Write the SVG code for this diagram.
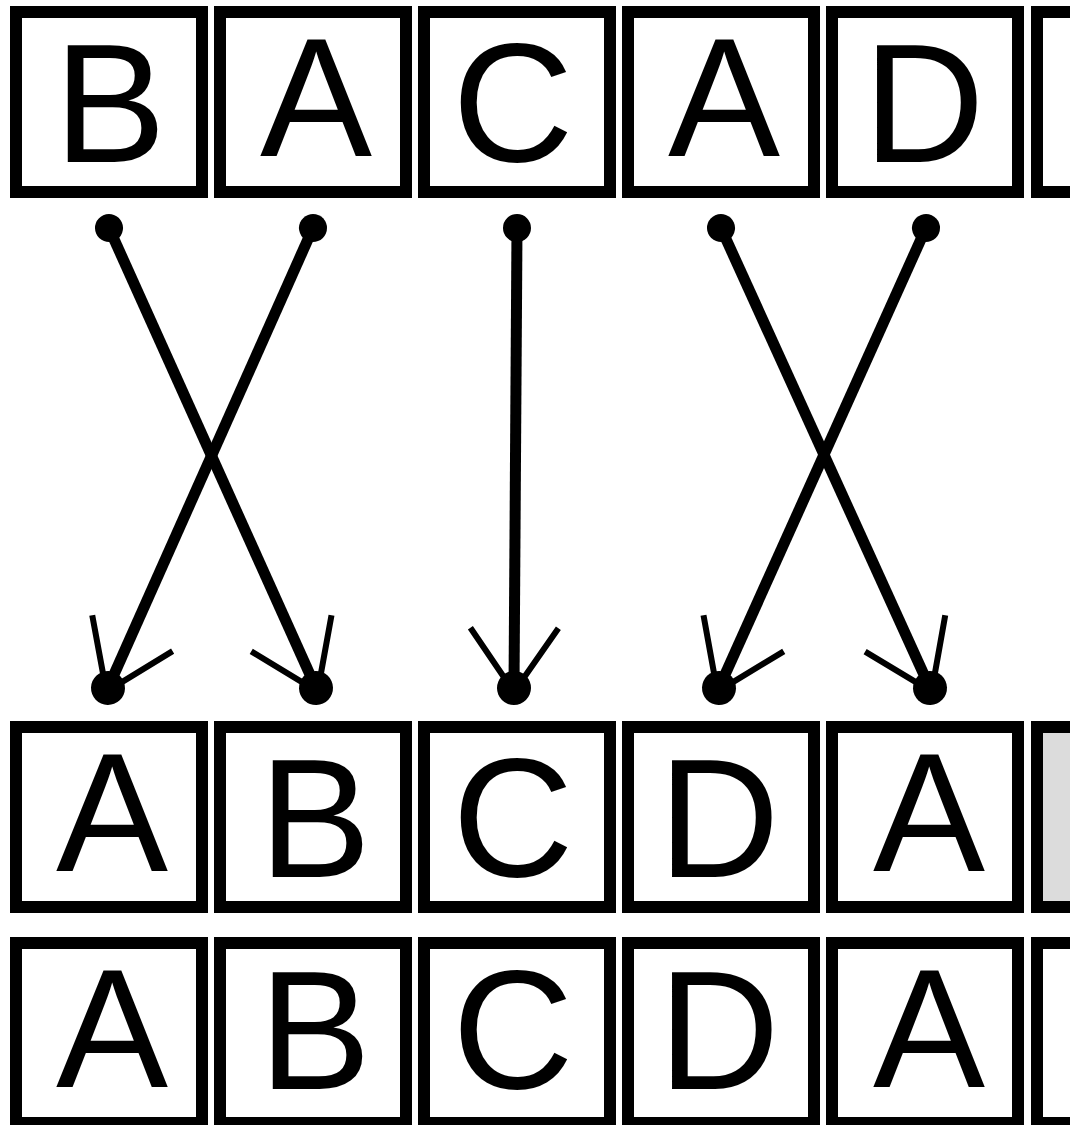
<svg xmlns="http://www.w3.org/2000/svg" width="1070" height="1125" viewBox="0 0 1070 1125">
<style>
.box{fill:#fff;stroke:#000;stroke-width:12}
.grey{fill:#dcdcdc}
.lt{font-family:"Liberation Sans",Arial,sans-serif;font-size:168px;fill:#000;text-anchor:middle}
.conn{stroke:#000;stroke-width:11;fill:none;marker-start:url(#dot);marker-end:url(#head)}
</style>
<defs>
<marker id="dot" markerUnits="userSpaceOnUse" viewBox="-20 -20 40 40" markerWidth="40" markerHeight="40" refX="0" refY="0" orient="auto" overflow="visible"><circle r="14" fill="#000"/></marker>
<marker id="head" markerUnits="userSpaceOnUse" viewBox="-90 -60 110 120" markerWidth="110" markerHeight="120" refX="0" refY="0" orient="auto" overflow="visible"><path d="M-60,-44 L4,0 L-60,44" fill="none" stroke="#000" stroke-width="6"/><circle r="17" fill="#000"/></marker>
</defs>
<rect width="1070" height="1125" fill="#fff"/>
<g id="top-row">
<g id="t1"><rect class="box" x="16" y="12" width="186" height="180"/><text class="lt" x="110" y="162">B</text></g>
<g id="t2"><rect class="box" x="220" y="12" width="186" height="180"/><text class="lt" x="316" y="156">A</text></g>
<g id="t3"><rect class="box" x="424" y="12" width="186" height="180"/><text class="lt" x="513" y="161">C</text></g>
<g id="t4"><rect class="box" x="628" y="12" width="186" height="180"/><text class="lt" x="724" y="156">A</text></g>
<g id="t5"><rect class="box" x="832" y="12" width="186" height="180"/><text class="lt" x="924" y="162">D</text></g>
<g id="t6"><rect class="box" x="1037" y="12" width="186" height="180"/></g>
</g>
<g id="mid-row">
<g id="m1"><rect class="box" x="16" y="727" width="186" height="180"/><text class="lt" x="112" y="871">A</text></g>
<g id="m2"><rect class="box" x="220" y="727" width="186" height="180"/><text class="lt" x="315" y="877">B</text></g>
<g id="m3"><rect class="box" x="424" y="727" width="186" height="180"/><text class="lt" x="513" y="876">C</text></g>
<g id="m4"><rect class="box" x="628" y="727" width="186" height="180"/><text class="lt" x="719" y="877">D</text></g>
<g id="m5"><rect class="box" x="832" y="727" width="186" height="180"/><text class="lt" x="929" y="871">A</text></g>
<g id="m6"><rect class="box grey" x="1037" y="727" width="186" height="180"/></g>
</g>
<g id="bottom-row">
<g id="b1"><rect class="box" x="16" y="943" width="186" height="180"/><text class="lt" x="112" y="1087">A</text></g>
<g id="b2"><rect class="box" x="220" y="943" width="186" height="180"/><text class="lt" x="315" y="1089">B</text></g>
<g id="b3"><rect class="box" x="424" y="943" width="186" height="180"/><text class="lt" x="513" y="1088">C</text></g>
<g id="b4"><rect class="box" x="628" y="943" width="186" height="180"/><text class="lt" x="719" y="1089">D</text></g>
<g id="b5"><rect class="box" x="832" y="943" width="186" height="180"/><text class="lt" x="929" y="1087">A</text></g>
<g id="b6"><rect class="box" x="1037" y="943" width="186" height="180"/></g>
</g>
<g id="connectors">
<line class="conn" x1="109" y1="228" x2="316" y2="688"/>
<line class="conn" x1="313" y1="228" x2="108" y2="688"/>
<line class="conn" x1="517" y1="228" x2="514" y2="688"/>
<line class="conn" x1="721" y1="228" x2="930" y2="688"/>
<line class="conn" x1="926" y1="228" x2="719" y2="688"/>
</g>
</svg>
